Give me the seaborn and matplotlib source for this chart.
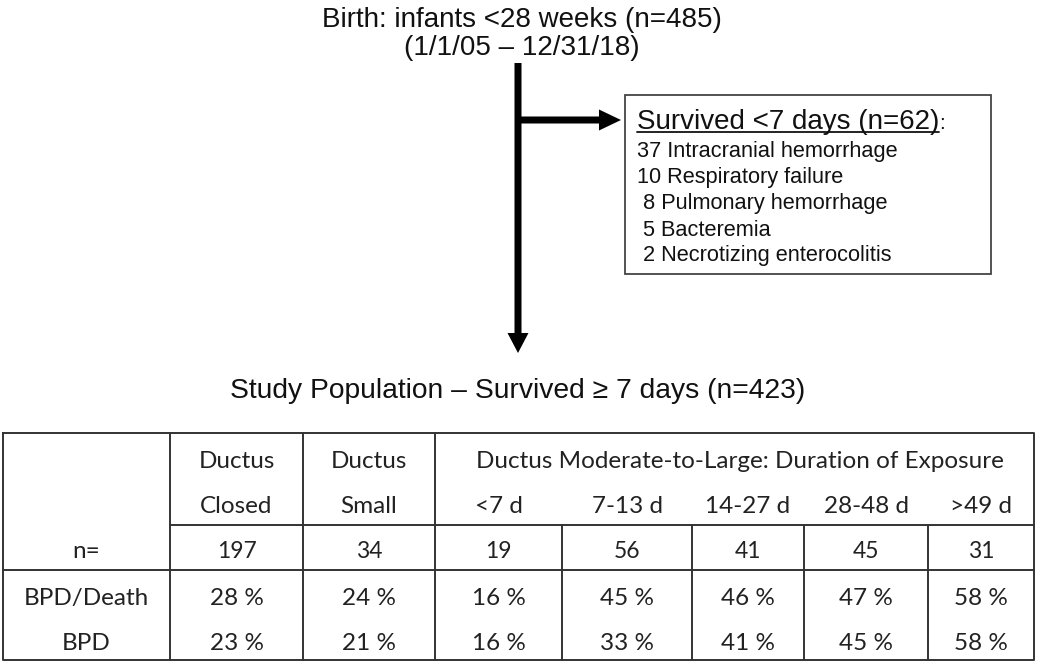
import matplotlib
matplotlib.use("Agg")
import matplotlib.pyplot as plt
import seaborn as sns

# ---- data ----
title_lines = ["Birth: infants <28 weeks (n=485)", "(1/1/05 \u2013 12/31/18)"]
excluded_title = "Survived <7 days (n=62)"
death_counts = ["37", "10", " 8", " 5", " 2"]
death_causes = ["Intracranial hemorrhage", "Respiratory failure", "Pulmonary hemorrhage",
                "Bacteremia", "Necrotizing enterocolitis"]
study_title = "Study Population \u2013 Survived \u2265 7 days (n=423)"
group_top = ["Ductus", "Ductus"]
group_bottom = ["Closed", "Small", "<7 d", "7-13 d", "14-27 d", "28-48 d", ">49 d"]
span_header = "Ductus Moderate-to-Large: Duration of Exposure"
row_labels = ["n=", "BPD/Death", "BPD"]
n_values = [197, 34, 19, 56, 41, 45, 31]
bpd_death = [28, 24, 16, 45, 46, 47, 58]
bpd = [23, 21, 16, 33, 41, 45, 58]

sns.set_theme(style="white")
plt.rcParams['font.family'] = ['Liberation Sans', 'DejaVu Sans']

fig = plt.figure(figsize=(10.5, 6.65), dpi=100)
ax = fig.add_axes([0, 0, 1, 1])
ax.set_xlim(0, 1050)
ax.set_ylim(665, 0)
ax.axis("off")

txt = "#111111"
# ---- flow part ----
ax.text(522, 27, title_lines[0], ha="center", va="baseline", fontsize=20, color=txt)
ax.text(522, 55, title_lines[1], ha="center", va="baseline", fontsize=20, color=txt)

ax.arrow(518, 63, 0, 290, width=7, head_width=21, head_length=20,
         length_includes_head=True, color="black", lw=0)
ax.arrow(515, 120, 106, 0, width=7, head_width=21, head_length=22,
         length_includes_head=True, color="black", lw=0)

ax.add_patch(plt.Rectangle((625, 95), 366, 179, fill=False, ec="#444444", lw=1.3))
t = ax.text(637, 129, excluded_title, ha="left", va="baseline", fontsize=20, color=txt)
fig.canvas.draw()
bb = t.get_window_extent(renderer=fig.canvas.get_renderer())
x0 = bb.x0
x1 = bb.x1
ax.plot([x0, x1], [132, 132], color=txt, lw=1.3)
ax.text(x1, 129, ":", ha="left", va="baseline", fontsize=15, color=txt)
item_base = [157, 183, 209, 236, 261]
for c, cause, yb in zip(death_counts, death_causes, item_base):
    ax.text(637, yb, f"{c} {cause}", ha="left", va="baseline", fontsize=15.7, color=txt)

ax.text(518, 398, study_title, ha="center", va="baseline", fontsize=20.3, color=txt)

# ---- table ----
tf = ["Lato", "DejaVu Sans"]
lc = "#333333"
lw = 1.4
left, right, top, bottom = 3, 1034, 433, 660
y_hdr, y_n = 525, 570
col_edges = [170, 303, 435, 562, 692, 804, 928, right]
ax.plot([left, right, right, left, left], [top, top, bottom, bottom, top], color=lc, lw=lw)
for x in col_edges[:3]:
    ax.plot([x, x], [top, bottom], color=lc, lw=lw)
for x in col_edges[3:-1]:
    ax.plot([x, x], [y_hdr, bottom], color=lc, lw=lw)
ax.plot([col_edges[0], right], [y_hdr, y_hdr], color=lc, lw=lw)
ax.plot([left, right], [y_n, y_n], color=lc, lw=lw)

centers = [(col_edges[i] + col_edges[i + 1]) / 2 for i in range(7)]
fs = 17.5
tcol = "#222222"
for i, g in enumerate(group_top):
    ax.text(centers[i], 468, g, ha="center", va="baseline", fontsize=fs, color=tcol, family=tf)
ax.text(740, 468, span_header, ha="center", va="baseline", fontsize=fs, color=tcol, family=tf)
for i, g in enumerate(group_bottom):
    ax.text(centers[i], 513, g, ha="center", va="baseline", fontsize=fs, color=tcol, family=tf)

row_base = [558, 605, 650]
lab_x = (left + col_edges[0]) / 2
for lab, y in zip(row_labels, row_base):
    ax.text(lab_x, y, lab, ha="center", va="baseline", fontsize=fs, color=tcol, family=tf)
for i in range(7):
    ax.text(centers[i], row_base[0], str(n_values[i]), ha="center", va="baseline", fontsize=fs - 1,
            color=tcol, family=tf)
    ax.text(centers[i], row_base[1], f"{bpd_death[i]} %", ha="center", va="baseline", fontsize=fs,
            color=tcol, family=tf)
    ax.text(centers[i], row_base[2], f"{bpd[i]} %", ha="center", va="baseline", fontsize=fs,
            color=tcol, family=tf)

fig.savefig("out.png", dpi=100, facecolor="white")
